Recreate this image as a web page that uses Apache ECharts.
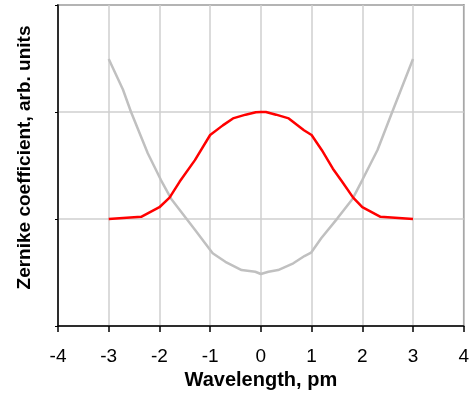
<!DOCTYPE html>
<html>
<head>
<meta charset="utf-8">
<script src="https://cdn.jsdelivr.net/npm/echarts@6/dist/echarts.min.js"></script>
<style>
  html, body { margin: 0; padding: 0; background: #fff; }
  #chart { width: 472px; height: 396px; }
</style>
</head>
<body>
<div id="chart"></div>
<script>
// red curve (wavelength, coefficient)
var redX = [-3, -2.36, -2, -1.8, -1.6, -1.3, -1, -0.75, -0.55, -0.3, -0.1, 0, 0.1, 0.3, 0.55, 0.85, 1, 1.2, 1.42, 1.6, 1.82, 2, 2.36, 3];
var redY = [1.0, 1.02, 1.11, 1.2, 1.35, 1.55, 1.785, 1.875, 1.94, 1.975, 1.997, 2.0, 2.0, 1.975, 1.94, 1.83, 1.785, 1.645, 1.47, 1.35, 1.2, 1.11, 1.02, 1.0];

// grey curve
var greyX = [-3, -2.72, -2.56, -2.23, -1.97, -1.77, -1.3, -0.95, -0.7, -0.38, -0.11, 0, 0.15, 0.34, 0.64, 0.86, 0.99, 1.19, 1.51, 1.81, 2, 2.3, 2.59, 3];
var greyY = [2.495, 2.21, 2.0, 1.614, 1.364, 1.19, 0.9, 0.68, 0.6, 0.523, 0.507, 0.486, 0.507, 0.523, 0.586, 0.654, 0.685, 0.82, 1.006, 1.19, 1.364, 1.645, 2.0, 2.495];

var xTicks = [-4, -3, -2, -1, 0, 1, 2, 3, 4];

function pairs(xs, ys){
  var out = [];
  for (var i = 0; i < xs.length; i++) out.push([xs[i], ys[i]]);
  return out;
}

var chart = echarts.init(document.getElementById('chart'), null, {renderer: 'canvas'});
var font = 'Liberation Sans, Arial, sans-serif';

chart.setOption({
  animation: false,
  backgroundColor: '#fff',
  grid: {
    left: 58, right: 6, top: 5, bottom: 70,
    show: true, borderColor: '#333', borderWidth: 1.5, backgroundColor: 'transparent'
  },
  xAxis: {
    type: 'value',
    min: xTicks[0], max: xTicks[xTicks.length - 1], interval: 1,
    name: 'Wavelength, pm',
    nameLocation: 'middle',
    nameGap: 41,
    nameTextStyle: {fontFamily: font, fontSize: 20, fontWeight: 'bold', color: '#000'},
    axisLine: {show: true, onZero: false, lineStyle: {color: '#000', width: 1.5}},
    axisTick: {show: true, length: 6, lineStyle: {color: '#000', width: 1.5}},
    axisLabel: {margin: 21, fontFamily: font, fontSize: 19, color: '#000'},
    splitLine: {show: true, lineStyle: {color: '#cfcfcf', width: 1.5}}
  },
  yAxis: {
    type: 'value',
    min: 0, max: 3, interval: 1,
    name: 'Zernike coefficient, arb. units',
    nameLocation: 'middle',
    nameGap: 24,
    nameRotate: 90,
    // nudge the title up a little, like the original
    nameTextStyle: {fontFamily: font, fontSize: 19, fontWeight: 'bold', color: '#000', padding: [0, 0, 0, 16]},
    axisLine: {show: true, onZero: false, lineStyle: {color: '#000', width: 1.5}},
    axisTick: {show: true, length: 3, lineStyle: {color: '#000', width: 1}},
    axisLabel: {show: false},
    splitLine: {show: true, lineStyle: {color: '#cfcfcf', width: 1.5}}
  },
  series: [{
    type: 'line',
    data: pairs(greyX, greyY),
    showSymbol: false,
    lineStyle: {color: '#c0c0c0', width: 2.5},
    z: 3
  }, {
    type: 'line',
    data: pairs(redX, redY),
    showSymbol: false,
    lineStyle: {color: '#ff0000', width: 2.5},
    z: 4
  }]
});
</script>
</body>
</html>
